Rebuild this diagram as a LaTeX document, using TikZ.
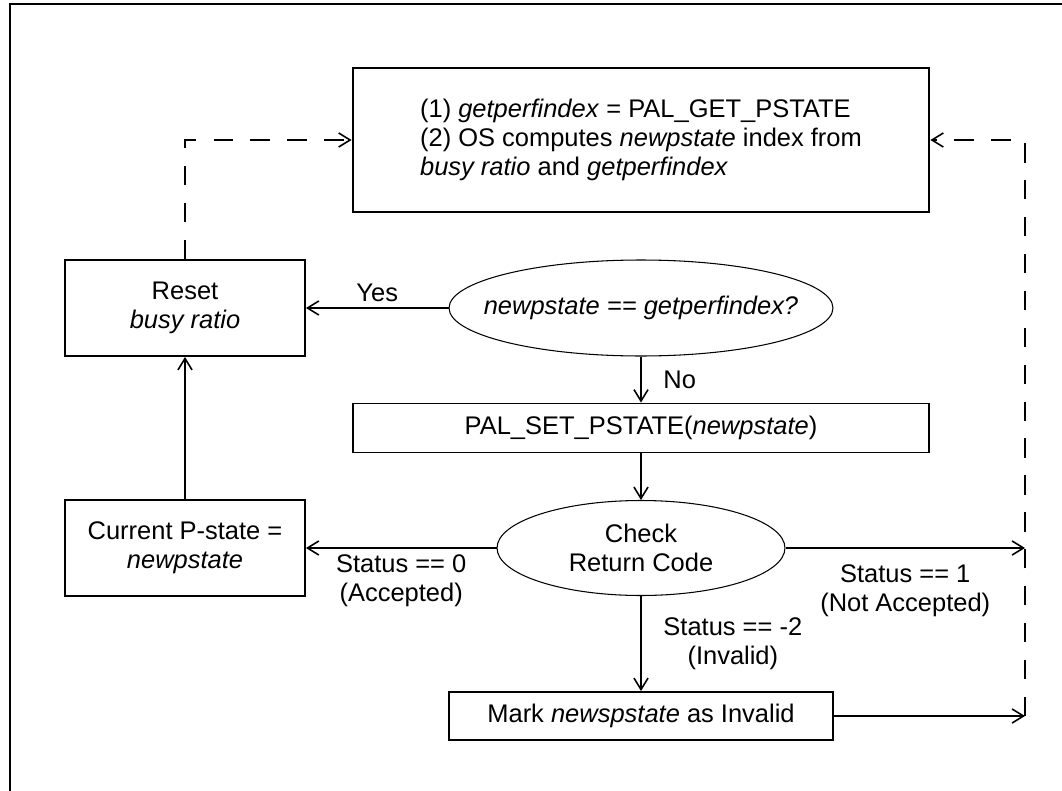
\documentclass[tikz,border=0pt]{standalone}
\usepackage{fontspec}
\setmainfont{Liberation Sans}
\usetikzlibrary{arrows.meta,positioning,shapes.geometric}

\begin{document}
\begin{tikzpicture}[x=0.02cm,y=-0.02cm,
    every node/.style={font=\fontsize{14.5}{16.4}\selectfont},
    box/.style={draw,line width=1.1pt,inner sep=0pt,align=center},
    decision/.style={ellipse,draw,line width=0.6pt,inner sep=0pt},
    flow/.style={line width=0.9pt,-{Straight Barb[length=6.5pt,width=8pt]}},
    feedback/.style={flow,dash pattern=on 11pt off 10pt}]
  \useasboundingbox (0,0) rectangle (1062,791);
  \draw[line width=0.6pt] (1062,4) -- (10,4) -- (10,791);

  % boxes and tests
  \node[box,align=left,minimum width=11.54cm,minimum height=2.88cm] (compute) at (641,140)
    {(1) \textit{getperfindex} = PAL\_GET\_PSTATE\\(2) OS computes \textit{newpstate} index from\\\textit{busy ratio} and \textit{getperfindex}};
  \node[box,minimum width=4.8cm,minimum height=1.92cm] (reset) at (185,308) {Reset\\\textit{busy ratio}};
  \node[decision,minimum width=7.68cm,minimum height=1.92cm] (same) at (641,308) {};
  \node (sametext) at (same) {\textit{newpstate == getperfindex?}};
  \node[box,minimum width=11.54cm,minimum height=0.98cm] (setp) at (641,428) {PAL\_SET\_PSTATE(\textit{newpstate})};
  \node[decision,minimum width=5.76cm,minimum height=1.9cm] (check) at (641,548) {};
  \node[align=center] (checktext) at (check) {Check\\Return Code};
  \node[box,minimum width=4.8cm,minimum height=1.92cm] (current) at (185,548) {Current P-state =\\\textit{newpstate}};
  \node[box,minimum width=7.68cm,minimum height=0.96cm] (mark) at (641,716) {Mark \textit{newspstate} as Invalid};
  \coordinate (nacc) at (1025,548);
  \coordinate (inv) at (1025,716);

  % connectors
  \draw[flow] (same.west) -- node[above] {Yes} (reset.east);
  \draw[flow] (same.south) -- node[right=9pt] {No} (setp.north);
  \draw[flow] (setp.south) -- (check.north);
  \draw[flow] (current.north) -- (reset.south);
  \draw[flow] (check.west) -- node[below,align=center] {Status == 0\\(Accepted)} (current.east);
  \draw[flow] (check.east) -- node[below=6pt,align=center] {Status == 1\\(Not Accepted)} (nacc);
  \draw[flow] (check.south) -- node[right=9pt,align=center] {Status == -2\\(Invalid)} (mark.north);
  \draw[flow] (mark.east) -- (inv);
  \draw[feedback] (reset.north) |- (compute.west);
  \draw[feedback] (inv) |- (compute.east);
\end{tikzpicture}
\end{document}
